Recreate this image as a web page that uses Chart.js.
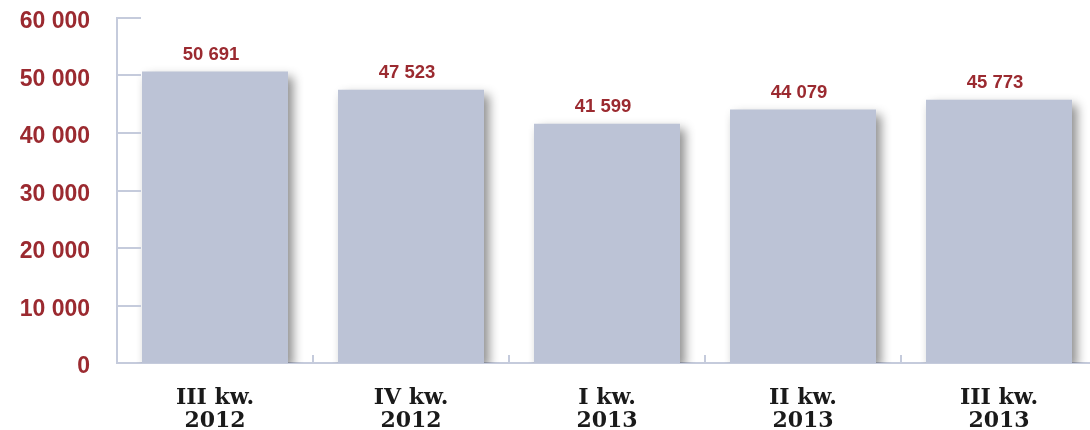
<!DOCTYPE html>
<html>
<head>
<meta charset="utf-8">
<script src="https://cdn.jsdelivr.net/npm/chart.js@4/dist/chart.umd.min.js"></script>
<style>
    html, body { margin: 0; padding: 0; background: #fff; overflow: hidden; }
    #wrap { width: 1100px; height: 430px; }
</style>
</head>
<body>
<div id="wrap"><canvas id="barChart"></canvas></div>
<script>
const categories = [['III kw.', '2012'], ['IV kw.', '2012'], ['I kw.', '2013'], ['II kw.', '2013'], ['III kw.', '2013']];
const values = [50691, 47523, 41599, 44079, 45773];
const yTicks = [0, 10000, 20000, 30000, 40000, 50000, 60000];

const red = '#9b2a30';
const axisColor = '#c5cbdc';

function fmt(v) {
    return String(v).replace(/\B(?=(\d{3})+(?!\d))/g, ' ');
}

// shadow under the bars + value labels
const barShadow = {
    id: 'barShadow',
    beforeDatasetsDraw(chart) {
        const ctx = chart.ctx;
        ctx.save();
        ctx.shadowColor = 'rgba(0, 0, 0, 0.45)';
        ctx.shadowBlur = 10;
        ctx.shadowOffsetX = 5;
        ctx.shadowOffsetY = 5;
    },
    afterDatasetsDraw(chart) {
        const ctx = chart.ctx;
        ctx.restore();

        ctx.save();
        ctx.fillStyle = red;
        ctx.font = 'bold 18.5px "Liberation Sans", Arial, sans-serif';
        ctx.textAlign = 'center';
        ctx.textBaseline = 'middle';
        chart.getDatasetMeta(0).data.forEach((bar, i) => {
            ctx.fillText(fmt(values[i]), bar.x - 4, bar.y - 17);
        });
        ctx.restore();
    }
};

// short tick marks on both axes
const axisTicks = {
    id: 'axisTicks',
    afterDraw(chart) {
        const ctx = chart.ctx;
        const x = chart.scales.x;
        const y = chart.scales.y;
        const area = chart.chartArea;
        ctx.save();
        ctx.strokeStyle = axisColor;
        ctx.lineWidth = 2;
        yTicks.forEach(t => {
            if (t === 0) return;
            const py = Math.round(y.getPixelForValue(t));
            ctx.beginPath();
            ctx.moveTo(area.left, py);
            ctx.lineTo(area.left + 24, py);
            ctx.stroke();
        });
        for (let i = 1; i < categories.length; i++) {
            const px = Math.round((x.getPixelForValue(i - 1) + x.getPixelForValue(i)) / 2);
            ctx.beginPath();
            ctx.moveTo(px, area.bottom);
            ctx.lineTo(px, area.bottom - 8);
            ctx.stroke();
        }
        ctx.restore();
    }
};

new Chart(document.getElementById('barChart'), {
    type: 'bar',
    data: {
        labels: categories,
        datasets: [{
            data: values,
            backgroundColor: '#bcc3d6',
            borderWidth: 0,
            categoryPercentage: 1,
            barPercentage: 0.745
        }]
    },
    options: {
        responsive: true,
        maintainAspectRatio: false,
        animation: false,
        layout: {
            padding: { top: 18, right: 3, left: 0, bottom: 0 }
        },
        plugins: {
            legend: { display: false },
            tooltip: { enabled: false }
        },
        scales: {
            x: {
                afterFit(axis) { axis.height = 67; },
                grid: { display: false, drawTicks: false },
                border: { display: true, color: axisColor, width: 2 },
                ticks: {
                    padding: 24,
                    color: '#1a1a1a',
                    font: { family: '"DejaVu Serif", serif', weight: 'bold', size: 22, lineHeight: 1.05 }
                }
            },
            y: {
                min: 0,
                max: 60000,
                afterFit(axis) {
                    axis.width = 117;
                    axis.paddingTop = 0;
                    axis.paddingBottom = 0;
                },
                afterBuildTicks(axis) { axis.ticks = yTicks.map(v => ({ value: v })); },
                grid: { display: false, drawTicks: false },
                border: { display: true, color: axisColor, width: 2 },
                ticks: {
                    padding: 27,
                    labelOffset: 4,
                    color: red,
                    font: { family: '"Liberation Sans", Arial, sans-serif', weight: 'bold', size: 23 },
                    callback: v => fmt(v)
                }
            }
        }
    },
    plugins: [barShadow, axisTicks]
});
</script>
</body>
</html>
